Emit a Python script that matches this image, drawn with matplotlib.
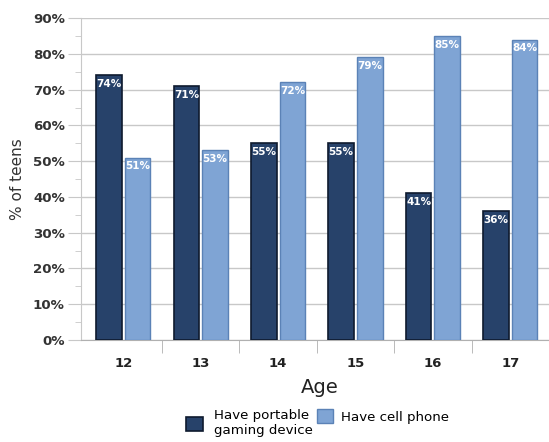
import numpy as np
from matplotlib import pyplot as plt
from matplotlib.ticker import MultipleLocator, PercentFormatter

ages = ["12", "13", "14", "15", "16", "17"]
gaming = [74, 71, 55, 55, 41, 36]
cell = [51, 53, 72, 79, 85, 84]
series_labels = ["Have portable\ngaming device", "Have cell phone"]

dark, dark_edge = "#27426a", "#0e1a2e"
light, light_edge = "#7fa4d4", "#5b82b6"

fig = plt.figure(figsize=(5.49, 4.42), dpi=100)
ax = fig.add_axes([0.147, 0.231, 0.853, 0.728])

x = np.arange(len(ages))
w = 0.33
b1 = ax.bar(x - w / 2 - 0.02, gaming, w, color=dark, edgecolor=dark_edge, linewidth=1.2,
            label=series_labels[0], zorder=3)
b2 = ax.bar(x + w / 2 + 0.02, cell, w, color=light, edgecolor=light_edge, linewidth=1.0,
            label=series_labels[1], zorder=3)

for bars, vals in ((b1, gaming), (b2, cell)):
    for rect, v in zip(bars, vals):
        ax.text(rect.get_x() + rect.get_width() / 2, v - 1.0, f"{v}%", ha="center", va="top",
                color="white", fontsize=7.5, fontweight="bold", zorder=4)

ax.set_xlim(-0.55, 5.5)
ax.set_ylim(0, 90)
ax.yaxis.set_major_locator(MultipleLocator(10))
ax.yaxis.set_minor_locator(MultipleLocator(5))
ax.yaxis.set_major_formatter(PercentFormatter(decimals=0))
ax.grid(axis="y", color="#c8c8c8", linewidth=1.0, zorder=0)

ax.set_xticks(x, ages)
ax.set_xticks(np.arange(0.5, 5.5, 1), minor=True)
ax.tick_params(axis="x", which="major", length=0, pad=12, labelsize=9.5, labelcolor="#222222")
ax.tick_params(axis="x", which="minor", length=9, color="#b0b0b0", direction="out")
ax.tick_params(axis="y", which="major", length=9.5, color="#c8c8c8", labelsize=9.6,
               labelcolor="#333333", pad=2)
ax.tick_params(axis="y", which="minor", length=4, color="#c8c8c8")
for lab in ax.get_xticklabels() + ax.get_yticklabels():
    lab.set_fontweight("bold")

for s in ("top", "right"):
    ax.spines[s].set_visible(False)
ax.spines["left"].set_color("#c8c8c8")
ax.spines["bottom"].set_color("#b0b0b0")

ax.set_xlabel("Age", fontsize=14, color="#222222", labelpad=6, x=0.51)
ax.set_ylabel("% of teens", fontsize=11, color="#333333", labelpad=6)

# two separate legends so both entries hang from the same top line
legend_kw = dict(loc="upper left", frameon=False, fontsize=9.6, handlelength=1.25,
                 handleheight=1.2, borderpad=0, borderaxespad=0)
fig.legend(handles=[b1], bbox_to_anchor=(0.339, 0.074), handletextpad=0.85, **legend_kw)
fig.legend(handles=[b2], bbox_to_anchor=(0.577, 0.074), handletextpad=0.6, **legend_kw)

fig.savefig("out.png", dpi=100)
